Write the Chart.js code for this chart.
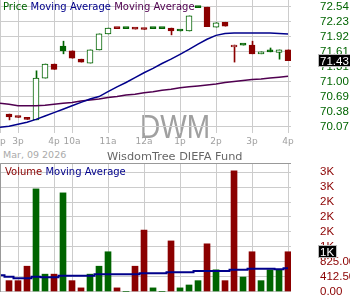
<!DOCTYPE html>
<html lang="en">
<head>
<meta charset="UTF-8" />
<title>DWM - WisdomTree DIEFA Fund</title>
<style>
  html, body { margin: 0; padding: 0; background: #fff; }
  body { width: 350px; height: 300px; position: relative; overflow: hidden; font-family: "DejaVu Sans", sans-serif; }
  canvas { position: absolute; left: 0; }
  #priceChart { top: 0; }
  #volChart { top: 160px; }
  .lbl { position: absolute; white-space: nowrap; font-size: 10px; line-height: 1; }
</style>
</head>
<body>
<canvas id="priceChart" width="350" height="148"></canvas>
<canvas id="volChart" width="350" height="140"></canvas>

<div class="lbl" style="left:3px; top:2px;"><span style="color:#006400">Price</span> <span style="color:#00008b">Moving Average</span> <span style="color:#500050">Moving Average</span></div>
<div class="lbl" style="left:3px; top:149.5px; font-size:9.5px; color:#aaaaaa;">Mar, 09 2026</div>
<div class="lbl" style="left:107px; top:150.5px; font-size:11.3px; color:#666666;">WisdomTree DIEFA Fund</div>
<div class="lbl" style="left:5px; top:167px;"><span style="color:#8b0000">Volume</span> <span style="color:#00008b">Moving Average</span></div>

<script src="https://cdn.jsdelivr.net/npm/chart.js"></script>
<script>
// 15 minute candles, slots 1..32
const openP  = [70.33, 70.26, 70.25, 70.21, 71.07, 71.36, 71.73, 71.63, 71.46, 71.38, 71.65, 71.98, 72.09, 72.09, 72.08, 72.07,
                72.09, 72.09, 72.10, 72.04, 72.04, 72.54, 72.53, 72.12, 72.22, 71.71, 71.75, 71.75, 71.57, 71.61, 71.60, 71.65];
const highP  = [70.33, 70.26, 70.25, 71.22, 71.36, 71.36, 71.83, 71.63, 71.46, 71.65, 71.98, 72.10, 72.09, 72.09, 72.08, 72.07,
                72.09, 72.09, 72.10, 72.04, 72.35, 72.54, 72.53, 72.21, 72.22, 71.75, 71.75, 71.83, 71.61, 71.69, 71.65, 71.65];
const lowP   = [70.21, 70.26, 70.22, 70.21, 71.07, 71.25, 71.57, 71.48, 71.40, 71.38, 71.65, 71.98, 72.09, 72.09, 72.08, 72.07,
                72.09, 72.09, 71.96, 72.04, 72.04, 72.52, 72.13, 72.12, 72.14, 71.40, 71.75, 71.57, 71.57, 71.61, 71.46, 71.43];
const closeP = [70.27, 70.26, 70.22, 71.07, 71.36, 71.25, 71.63, 71.48, 71.40, 71.65, 71.98, 72.10, 72.09, 72.09, 72.08, 72.07,
                72.09, 72.09, 72.04, 72.04, 72.35, 72.52, 72.13, 72.21, 72.14, 71.75, 71.75, 71.57, 71.61, 71.61, 71.65, 71.43];
const volume = [300, 300, 700, 2840, 480, 480, 2730, 300, 100, 480, 700, 1100, 100, 0, 700, 1700,
                100, 0, 1400, 100, 180, 300, 1320, 600, 300, 3340, 400, 1100, 300, 600, 600, 1100];

// moving averages, slots 0..32
const priceMA  = [70.06, 70.08, 70.12, 70.16, 70.22, 70.29, 70.36, 70.43, 70.50, 70.57, 70.64, 70.69, 70.79, 70.89, 70.98, 71.08, 71.18,
                  71.27, 71.37, 71.46, 71.56, 71.66, 71.77, 71.87, 71.95, 71.99, 72.00, 72.00, 72.00, 72.00, 72.00, 71.99, 71.98];
const priceMA2 = [70.55, 70.53, 70.50, 70.50, 70.50, 70.51, 70.53, 70.55, 70.57, 70.60, 70.62, 70.64, 70.67, 70.69, 70.72, 70.74, 70.77,
                  70.79, 70.82, 70.84, 70.87, 70.89, 70.91, 70.93, 70.95, 70.98, 71.00, 71.02, 71.04, 71.05, 71.07, 71.09, 71.11];
const volMA    = [449, 410, 365, 365, 410, 393, 393, 437, 437, 437, 437, 476, 476, 476, 476, 476, 504,
                  504, 504, 532, 532, 532, 568, 568, 568, 568, 604, 604, 631, 631, 631, 615, 642];

const xTickPos    = [0, 2, 6, 8, 12, 16, 20, 24, 28, 32];
const xTickLabels = ['2p', '3p', '4p', '10a', '11a', '12a', '1p', '2p', '3p', '4p'];
const priceTicks  = [70.07, 70.38, 70.69, 71.00, 71.31, 71.61, 71.92, 72.23, 72.54];
const volTicks      = [0, 412.5, 825, 1237.5, 1650, 2062.5, 2475, 2887.5, 3300];
const volTickLabels = ['0.00', '412.50', '825.00', '1K', '2K', '2K', '2K', '3K', '3K'];

const GREEN = '#006400', RED = '#8b0000', NAVY = '#00008b', PURPLE = '#500050', GRID = '#cccccc';
const X_MAX = 32.33;
const wickShift = 0.5 / 9; // half a pixel so the 1px wick sits on whole pixels

const slots = closeP.map((c, i) => i + 1);
const maSlots = priceMA.map((v, i) => i);
const candleColor = closeP.map((c, i) => (c >= (i ? closeP[i - 1] : openP[0]) ? GREEN : RED));
const bodyFill = closeP.map((c, i) => (c > openP[i] ? '#ffffff' : candleColor[i]));

function fmtVol(v) {
  return v < 1000 ? v.toFixed(2) : Math.round(v / 1000) + 'K';
}

function noPad(s) {
  s.paddingLeft = 0;
  s.paddingRight = 0;
  s.paddingTop = 0;
  s.paddingBottom = 0;
}

// watermark, panel frame and the last-value boxes
const decor = {
  id: 'decor',
  beforeDraw(chart, args, o) {
    if (!o.watermark) return;
    const ctx = chart.ctx;
    ctx.save();
    ctx.font = '33px "Liberation Sans", sans-serif';
    ctx.fillStyle = '#a0a0a0';
    ctx.textAlign = 'center';
    ctx.textBaseline = 'alphabetic';
    ctx.translate(chart.width / 2, chart.chartArea.bottom + 5);
    ctx.scale(0.85, 1);
    ctx.fillText(o.watermark, 0, 0);
    ctx.restore();
  },
  afterDraw(chart, args, o) {
    const ctx = chart.ctx;
    const a = chart.chartArea;
    ctx.save();
    if (o.frame) {
      ctx.strokeStyle = '#999999';
      ctx.lineWidth = 1;
      ctx.beginPath();
      ctx.moveTo(a.left + 0.5, a.bottom);
      ctx.lineTo(a.left + 0.5, a.top + 0.5);
      ctx.lineTo(a.right, a.top + 0.5);
      ctx.stroke();
    }
    if (o.lastValue != null) {
      const ys = chart.scales.y;
      const y = Math.round(ys.getPixelForValue(o.lastValue));
      ctx.font = o.font;
      const w = ctx.measureText(o.lastLabel).width + 4;
      ctx.fillStyle = '#000000';
      ctx.fillRect(ys.left + 27, y - 6, w, 12);
      ctx.strokeStyle = '#bbbbbb';
      ctx.strokeRect(ys.left + 27.5, y - 6.5, w, 12);
      ctx.fillStyle = '#ffffff';
      ctx.textAlign = 'left';
      ctx.textBaseline = 'middle';
      ctx.fillText(o.lastLabel, ys.left + 29, y + 0.5);
    }
    ctx.restore();
  }
};

function timeAxis(showLabels) {
  return {
    type: 'linear',
    min: 0,
    max: X_MAX,
    offset: false,
    grid: { color: GRID, drawTicks: false, offset: false },
    border: { display: false },
    ticks: {
      display: showLabels,
      padding: 3,
      color: '#a0a0a0',
      font: { family: 'DejaVu Sans', size: 9 },
      autoSkip: false,
      maxRotation: 0,
      callback: (v, i) => xTickLabels[i]
    },
    afterBuildTicks: (s) => { s.ticks = xTickPos.map((v) => ({ value: v })); },
    afterFit: (s) => { noPad(s); s.height = showLabels ? 15 : 8; }
  };
}

function valueAxis(min, max, ticks, labels, color) {
  return {
    position: 'right',
    min: min,
    max: max,
    grid: { color: GRID, drawTicks: false },
    border: { display: false },
    ticks: {
      color: color,
      padding: 29,
      autoSkip: false,
      font: { family: 'Liberation Sans', size: 11.5 },
      callback: (v, i) => labels[i]
    },
    afterBuildTicks: (s) => { s.ticks = ticks.map((v) => ({ value: v })); },
    afterFit: (s) => { noPad(s); s.width = 59; }
  };
}

new Chart(document.getElementById('priceChart'), {
  type: 'bar',
  data: {
    datasets: [
      {
        type: 'line',
        data: maSlots.map((x, i) => ({ x: x, y: priceMA[i] })),
        borderColor: NAVY,
        borderWidth: 1.5,
        pointRadius: 0,
        order: 0
      },
      {
        type: 'line',
        data: maSlots.map((x, i) => ({ x: x, y: priceMA2[i] })),
        borderColor: PURPLE,
        borderWidth: 1.5,
        pointRadius: 0,
        order: 0
      },
      {
        data: slots.map((x, i) => ({ x: x, y: [openP[i], closeP[i]] })),
        backgroundColor: bodyFill,
        borderColor: candleColor,
        borderWidth: 1,
        borderSkipped: false,
        barThickness: 6,
        minBarLength: 2,
        grouped: false,
        order: 1
      },
      {
        data: slots.map((x, i) => ({ x: x, y: [lowP[i], highP[i]] })),
        backgroundColor: candleColor,
        borderWidth: 0,
        barThickness: 1,
        grouped: false,
        xAxisID: 'xw',
        order: 2
      }
    ]
  },
  options: {
    responsive: false,
    animation: false,
    devicePixelRatio: 1,
    events: [],
    layout: { padding: 0 },
    plugins: {
      legend: { display: false },
      tooltip: { enabled: false },
      decor: {
        watermark: 'DWM',
        lastValue: closeP[closeP.length - 1],
        lastLabel: closeP[closeP.length - 1].toFixed(2),
        font: '11.5px "Liberation Sans"'
      }
    },
    scales: {
      x: timeAxis(true),
      xw: {
        type: 'linear',
        display: false,
        offset: false,
        min: -wickShift,
        max: X_MAX - wickShift,
        ticks: { display: false },
        afterFit: noPad
      },
      y: valueAxis(69.94, 72.678, priceTicks, priceTicks.map((v) => v.toFixed(2)), GREEN)
    }
  },
  plugins: [decor]
});

new Chart(document.getElementById('volChart'), {
  type: 'bar',
  data: {
    datasets: [
      {
        type: 'line',
        data: maSlots.map((x, i) => ({ x: x, y: volMA[i] })),
        borderColor: NAVY,
        borderWidth: 2,
        pointRadius: 0,
        stepped: 'middle',
        order: 0
      },
      {
        data: slots.map((x, i) => ({ x: x, y: volume[i] })),
        backgroundColor: candleColor,
        borderWidth: 0,
        barThickness: 6,
        order: 1
      }
    ]
  },
  options: {
    responsive: false,
    animation: false,
    devicePixelRatio: 1,
    events: [],
    layout: { padding: { top: 3 } },
    plugins: {
      legend: { display: false },
      tooltip: { enabled: false },
      decor: {
        frame: true,
        lastValue: volume[volume.length - 1],
        lastLabel: fmtVol(volume[volume.length - 1]),
        font: '11.5px "Liberation Sans"'
      }
    },
    scales: {
      x: timeAxis(false),
      y: valueAxis(-14, 3557, volTicks, volTickLabels, RED)
    }
  },
  plugins: [decor]
});
</script>
</body>
</html>
